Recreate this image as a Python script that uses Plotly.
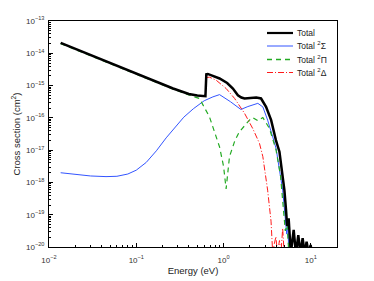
import plotly.graph_objects as go

# Total cross section (log10 values)
E_total = [0.0136, 0.03, 0.1, 0.264, 0.4, 0.5, 0.62, 0.635, 0.66, 0.75, 0.90, 1.1, 1.28, 1.46,
           1.6, 1.74, 2.0, 2.37, 2.69, 3.07, 3.51, 3.98, 4.37, 4.98, 5.2, 5.35, 5.57, 5.9, 6.36,
           6.75, 7.19, 7.6, 8.06, 8.5, 8.95, 9.45, 9.95, 10.3]
logS_total = [-13.68, -14.06, -14.63, -15.09, -15.26, -15.31, -15.33, -14.65, -14.64, -14.70,
              -14.78, -14.92, -15.09, -15.30, -15.37, -15.40, -15.38, -15.37, -15.40, -15.66,
              -16.07, -16.69, -17.05, -18.24, -18.86, -19.35, -19.11, -20.2, -19.47, -20.2,
              -19.63, -20.2, -19.73, -20.2, -19.84, -20.2, -19.94, -20.2]

E_sigma = [0.0136, 0.02, 0.03, 0.045, 0.06, 0.08, 0.1, 0.13, 0.17, 0.22, 0.28, 0.35, 0.45,
           0.6, 0.755, 0.90, 1.2, 1.52, 1.58, 1.9, 2.47, 2.82, 3.2, 3.66, 4.0, 4.76, 5.1, 5.3,
           5.45, 5.6]
logS_sigma = [-17.70, -17.76, -17.80, -17.82, -17.81, -17.74, -17.62, -17.38, -17.02, -16.62,
              -16.28, -15.98, -15.72, -15.47, -15.35, -15.28, -15.50, -15.71, -15.74, -15.65,
              -15.55, -15.66, -16.07, -16.59, -16.95, -18.24, -19.17, -19.6, -19.3, -20.2]

E_pi = [0.0136, 0.03, 0.1, 0.264, 0.4, 0.53, 0.69, 0.80, 0.90, 1.0, 1.07, 1.17, 1.35, 1.52,
        1.98, 2.16, 2.47, 2.82, 3.36, 4.0, 4.5, 5.1, 5.35, 5.6]
logS_pi = [-13.70, -14.08, -14.65, -15.11, -15.29, -15.40, -15.97, -16.45, -16.9, -17.5,
           -18.2, -17.2, -16.7, -16.43, -16.07, -15.99, -16.09, -15.99, -16.33, -17.0, -17.8,
           -19.5, -19.3, -20.2]

E_delta = [0.63, 0.69, 0.82, 1.07, 1.34, 1.74, 2.16, 2.58, 2.82, 3.2, 3.5, 3.66, 3.82, 3.98,
           4.15, 4.37, 4.55, 4.76, 4.95]
logS_delta = [-14.75, -14.74, -14.83, -15.09, -15.40, -15.86, -16.33, -16.79, -17.2, -18.24,
              -19.2, -20.2, -19.9, -19.68, -20.2, -19.8, -20.2, -19.42, -20.2]

x_tickvals = [0.01, 0.1, 1, 10]
x_ticktext = ["10<sup>−2</sup>", "10<sup>−1</sup>", "10<sup>0</sup>", "10<sup>1</sup>"]
y_tickvals = [1e-20, 1e-19, 1e-18, 1e-17, 1e-16, 1e-15, 1e-14, 1e-13]
y_ticktext = ["10<sup>−20</sup>", "10<sup>−19</sup>", "10<sup>−18</sup>", "10<sup>−17</sup>",
              "10<sup>−16</sup>", "10<sup>−15</sup>", "10<sup>−14</sup>", "10<sup>−13</sup>"]

legend_labels = ["Total", "Total <sup>2</sup>Σ", "Total <sup>2</sup>Π", "Total <sup>2</sup>Δ"]
colors = ["black", "#3355ff", "#22aa22", "#ff1a1a"]
widths = [2.5, 1, 1.2, 1]
dashes = ["solid", "solid", "5px,4px", "6px,2px,1px,2px"]


def lin(v):
    return [10 ** a for a in v]


fig = go.Figure()
series = [(E_sigma, logS_sigma, 1), (E_pi, logS_pi, 2), (E_delta, logS_delta, 3),
          (E_total, logS_total, 0)]
for xs, ys, i in series:
    fig.add_trace(go.Scatter(x=xs, y=lin(ys), mode="lines", name=legend_labels[i],
                             showlegend=False,
                             line=dict(color=colors[i], width=widths[i], dash=dashes[i])))

# manual legend (compact row spacing as in the reference)
L, W, T, H = 49, 288, 21, 226
row_py = [33, 46, 59.5, 72.5]
legend_widths = [2.2, 1, 1.5, 1.2]
for i, py in enumerate(row_py):
    yp = (T + H - py) / H
    fig.add_shape(type="line", xref="paper", yref="paper",
                  x0=(267 - L) / W, x1=(293 - L) / W, y0=yp, y1=yp,
                  line=dict(color=colors[i], width=legend_widths[i], dash=dashes[i]))
    fig.add_annotation(xref="paper", yref="paper", x=(295 - L) / W, y=yp, text=legend_labels[i],
                       showarrow=False, xanchor="left", yanchor="middle",
                       font=dict(size=8.5, color="#222222"))

axis_common = dict(
    type="log", showline=True, mirror=True, linecolor="black", linewidth=1,
    ticks="inside", ticklen=4, tickcolor="black", showgrid=False, zeroline=False,
    automargin=False,
    tickmode="array", tickfont=dict(size=8, color="#333333"),
    minor=dict(ticks="inside", ticklen=2, tickcolor="black", showgrid=False, dtick="D1"),
)

fig.update_xaxes(**axis_common, range=[-2, 1.30], tickvals=x_tickvals, ticktext=x_ticktext,
                 ticklabelstandoff=5,
                 title=dict(text="Energy (eV)", font=dict(size=9.5, color="#222222"), standoff=2))
fig.update_yaxes(**axis_common, range=[-20, -13], tickvals=y_tickvals, ticktext=y_ticktext,
                 ticklabelstandoff=2,
                 title=dict(text="Cross section (cm<sup>2</sup>)",
                            font=dict(size=9.5, color="#222222"), standoff=3))

fig.update_layout(
    width=374, height=281,
    margin=dict(l=49, r=37, t=21, b=34, autoexpand=False),
    plot_bgcolor="white", paper_bgcolor="white",
    font=dict(family="Liberation Sans, Arial, sans-serif", size=8, color="#222222"),
    showlegend=False,
)

fig.write_html("out.html", config={"displayModeBar": False},
               post_script="document.body.style.margin='0';")
